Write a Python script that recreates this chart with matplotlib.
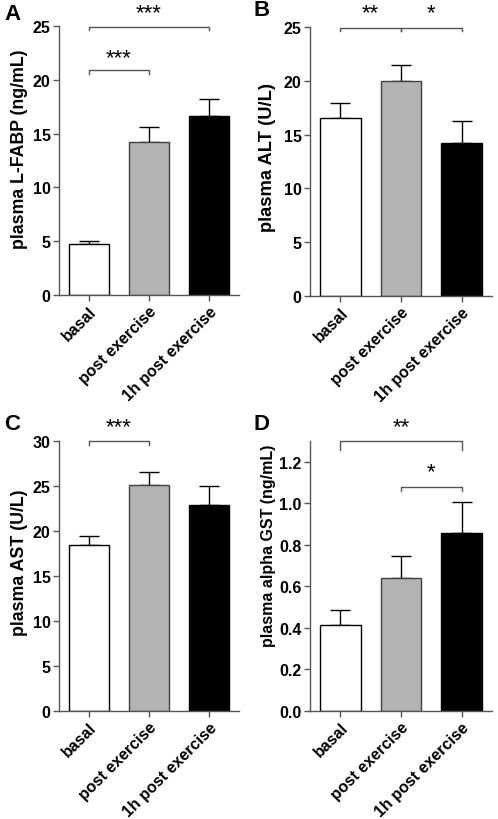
import numpy as np
import matplotlib.pyplot as plt

plt.rcParams['font.family'] = ['Liberation Sans', 'DejaVu Sans']
plt.rcParams['font.weight'] = 'bold'

groups = ['basal', 'post exercise', '1h post exercise']
barColors = ['white', '#b3b3b3', 'black']
edgeColors = ['black', '#404040', 'black']

# panel A: L-FABP
fabpMean = [4.75, 14.25, 16.65]
fabpErr = [0.3, 1.35, 1.55]
# panel B: ALT
altMean = [16.5, 20.0, 14.2]
altErr = [1.4, 1.5, 2.1]
# panel C: AST
astMean = [18.5, 25.1, 22.9]
astErr = [0.9, 1.5, 2.1]
# panel D: alpha GST
gstMean = [0.415, 0.64, 0.855]
gstErr = [0.07, 0.105, 0.15]

spineColor = '#555555'
W, H = 498.0, 820.0

def addBracket(ax, i, j, y, leg, label, starY):
    ax.plot([i, i, j, j], [y - leg, y, y, y - leg], color=spineColor, lw=1, clip_on=False)
    ax.text((i + j) / 2, starY, label, ha='center', va='center', fontsize=16,
            fontweight='normal', clip_on=False)

#px box: left, top, right, bottom ; label centre in px
def drawPanel(fig, box, means, errs, ylim, yticks, ylabel, labelPos, labelSize, tickSize,
              letter, letterPos, tickFmt):
    left, top, right, bottom = box
    ax = fig.add_axes([left / W, (H - bottom) / H, (right - left) / W, (bottom - top) / H])
    x = np.arange(len(groups))
    ax.bar(x, means, width=0.667, color=barColors, edgecolor=edgeColors, linewidth=1, zorder=2)
    ax.errorbar(x, means, yerr=[np.zeros(len(errs)), errs], fmt='none', ecolor='black',
                elinewidth=1, capsize=7, capthick=1, zorder=1)
    ax.set_xlim(-0.5, 2.5)
    ax.set_ylim(*ylim)
    ax.set_yticks(yticks)
    ax.set_yticklabels([tickFmt.format(t) for t in yticks], fontsize=tickSize, fontweight='bold')
    ax.set_xticks(x)
    ax.set_xticklabels(groups, rotation=45, ha='right', rotation_mode='anchor',
                       fontsize=11.5, fontweight='bold')
    ax.set_ylabel(ylabel, fontsize=labelSize, fontweight='bold', va='center')
    ax.yaxis.set_label_coords((labelPos[0] - left) / (right - left),
                              (bottom - labelPos[1]) / (bottom - top))
    for s in ['top', 'right']:
        ax.spines[s].set_visible(False)
    for s in ['left', 'bottom']:
        ax.spines[s].set_color(spineColor)
        ax.spines[s].set_linewidth(1)
    ax.tick_params(axis='both', direction='out', length=4, width=1, color=spineColor, pad=2)
    fig.text(letterPos[0] / W, 1 - letterPos[1] / H, letter, fontsize=16,
             fontweight='bold', ha='left', va='center')
    return ax

fig = plt.figure(figsize=(4.98, 8.2), dpi=100)

axA = drawPanel(fig, (59, 27, 239, 296), fabpMean, fabpErr, (0, 25), [0, 5, 10, 15, 20, 25],
                'plasma L-FABP (ng/mL)', (19, 149), 12.8, 11.5, 'A', (4, 14), '{:g}')
addBracket(axA, 0, 1, 20.9, 0.4, '***', 22.1)
addBracket(axA, 0, 2, 24.95, 0.35, '***', 26.2)

axB = drawPanel(fig, (310, 28, 492, 297), altMean, altErr, (0, 25), [0, 5, 10, 15, 20, 25],
                'plasma ALT (U/L)', (268, 157), 13.2, 11.5, 'B', (253, 11), '{:g}')
addBracket(axB, 0, 1, 24.95, 0.35, '**', 26.3)
addBracket(axB, 1, 2, 24.95, 0.35, '*', 26.3)

axC = drawPanel(fig, (59, 442, 239, 712), astMean, astErr, (0, 30), [0, 5, 10, 15, 20, 25, 30],
                'plasma AST (U/L)', (19, 563), 12.8, 11.5, 'C', (4, 425), '{:g}')
addBracket(axC, 0, 1, 29.97, 0.4, '***', 31.6)

axD = drawPanel(fig, (310, 442, 492, 712), gstMean, gstErr, (0, 1.3),
                [0, 0.2, 0.4, 0.6, 0.8, 1.0, 1.2], 'plasma alpha GST (ng/mL)', (268, 546),
                11.5, 11.5, 'D', (253, 425), '{:.1f}')
addBracket(axD, 0, 2, 1.30, 0.045, '**', 1.37)
addBracket(axD, 1, 2, 1.078, 0.02, '*', 1.15)

fig.savefig('out.png', dpi=100)
